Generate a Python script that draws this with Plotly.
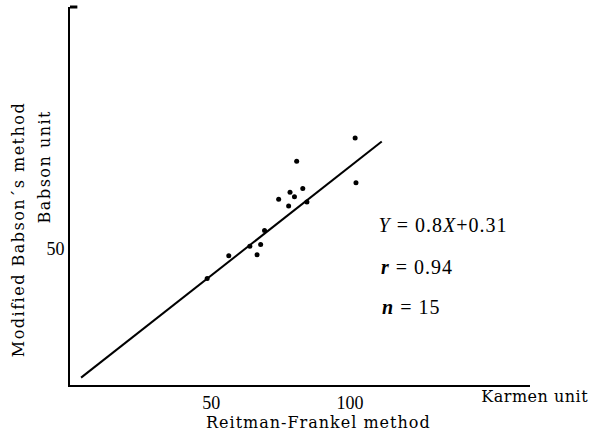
import plotly.graph_objects as go

# Reitman-Frankel method (Karmen unit) vs modified Babson's method (Babson unit)
rf_karmen = [101.9, 80.8, 102.2, 83.0, 78.4, 80.0, 74.3, 77.9, 84.5, 69.2, 63.9, 67.8, 66.5, 56.3, 48.5]
babson = [90.8, 82.3, 74.4, 72.3, 70.9, 69.2, 68.3, 65.8, 67.3, 56.8, 51.0, 51.7, 47.9, 47.5, 39.2]

# Regression line Y = 0.8X + 0.31
slope = 0.8
intercept = 0.31
r_value = 0.94
n_samples = 15
fit_x = [3.0, 111.5]
fit_y = [slope * x + intercept for x in fit_x]

x_ticks = [50, 100]
y_ticks = [50]

SERIF = "DejaVu Serif"
TIMES = "Liberation Serif"

fig = go.Figure()
fig.add_trace(go.Scatter(
    x=fit_x, y=fit_y, mode="lines",
    line=dict(color="black", width=2),
    hoverinfo="skip", showlegend=False,
))
fig.add_trace(go.Scatter(
    x=rf_karmen, y=babson, mode="markers",
    marker=dict(color="black", size=5),
    showlegend=False,
))

axis_common = dict(
    showline=True, linecolor="black", linewidth=2,
    showgrid=False, zeroline=False, ticks="",
    tickfont=dict(family=TIMES, size=18, color="black"),
)
fig.update_xaxes(range=[-1, 165], tickvals=x_ticks, ticklabelstandoff=0, **axis_common)
fig.update_yaxes(range=[0, 139], tickvals=y_ticks, ticklabelstandoff=0, **axis_common)

# small flag at the top of the vertical axis
fig.add_shape(type="line", xref="paper", yref="paper",
              x0=0, x1=0.016, y0=1, y1=1,
              line=dict(color="black", width=3))

title_font = dict(family=SERIF, size=16, color="black")
fig.add_annotation(text="Reitman-Frankel method", xref="paper", yref="paper",
                   x=0.541, y=-0.098, showarrow=False, font=title_font,
                   xanchor="center", yanchor="middle")
fig.add_annotation(text="Karmen unit", xref="paper", yref="paper",
                   x=1.011, y=-0.03, showarrow=False, font=title_font,
                   xanchor="center", yanchor="middle")
fig.add_annotation(text="Modified Babson\u00b4s method", xref="paper", yref="paper",
                   x=-0.113, y=0.41, showarrow=False, font=title_font,
                   textangle=-90, xanchor="center", yanchor="middle")
fig.add_annotation(text="Babson unit", xref="paper", yref="paper",
                   x=-0.0565, y=0.579, showarrow=False, font=title_font,
                   textangle=-90, xanchor="center", yanchor="middle")

eq_font = dict(family=TIMES, size=20, color="black")
stats_lines = [
    (f"<i>Y</i> = {slope:g}<i>X</i>+{intercept:g}", 0.423),
    (f"<b><i>r</i></b> = {r_value:g}", 0.312),
    (f"<b><i>n</i></b> = {n_samples}", 0.206),
]
for txt, ypos in stats_lines:
    fig.add_annotation(text=txt, xref="paper", yref="paper", x=0.68, y=ypos,
                       showarrow=False, font=eq_font, xanchor="left", yanchor="middle")

fig.update_layout(
    width=590, height=432,
    margin=dict(l=70, r=60, t=7, b=47),
    paper_bgcolor="white", plot_bgcolor="white",
    font=dict(family=SERIF, color="black"),
)

# widen the letter spacing of the axis captions and the statistics
spacing_js = """
var spacing = {
  "Reitman-Frankel method": "1px",
  "Karmen unit": "0.5px",
  "Modified Babson\\u00b4s method": "1.5px",
  "Babson unit": "1.5px"
};
document.querySelectorAll('.annotation-text').forEach(function (t) {
  var s = spacing[t.textContent];
  if (s) { t.style.letterSpacing = s; }
  else if (/=/.test(t.textContent)) { t.style.letterSpacing = "1px"; }
});
"""

fig.write_html("out.html", post_script=spacing_js)
